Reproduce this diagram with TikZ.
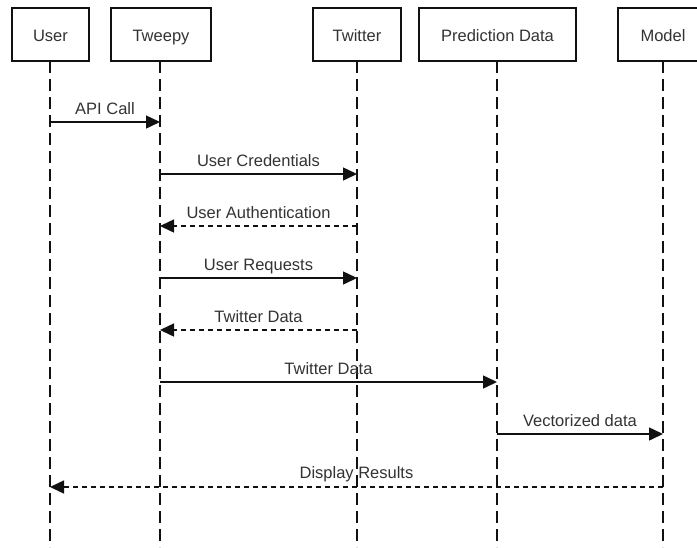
\documentclass[tikz,border=0pt]{standalone}
\usepackage{fontspec}
\setmainfont{Liberation Sans}
\usetikzlibrary{arrows.meta}
\definecolor{ink}{HTML}{111111}
\definecolor{txt}{HTML}{333333}
\begin{document}
\begin{tikzpicture}[x=1pt,y=-1pt,
  every node/.style={font=\fontsize{16.5}{20}\selectfont, text=txt},
  actor/.style={draw=ink, line width=2.4pt, minimum height=53pt, inner sep=0pt, anchor=center, text height=15pt, text depth=1pt},
  lifeline/.style={draw=ink, line width=1.5pt, dash pattern=on 12pt off 6pt},
  msg/.style={draw=ink, line width=1.5pt, -{Triangle[length=14pt,width=13pt]}},
  reply/.style={msg, dash pattern=on 5pt off 4pt},
  lbl/.style={anchor=base, inner sep=0pt}]
\useasboundingbox (0,0) rectangle (697,547);
\clip (0,0) rectangle (697,547);
\fill[white] (0,0) rectangle (697,547);
% actors
\node[actor, minimum width=77pt] (user) at (50.5,34.5) {User};
\node[actor, minimum width=100pt] (tweepy) at (161,34.5) {Tweepy};
\node[actor, minimum width=88pt] (twitter) at (357,34.5) {Twitter};
\node[actor, minimum width=157pt] (pred) at (497.5,34.5) {Prediction Data};
\node[actor, minimum width=90pt] (model) at (663,34.5) {Model};
% lifeline ends
\coordinate (uE) at (50,547);
\coordinate (tE) at (160,547);
\coordinate (wE) at (357,547);
\coordinate (pE) at (497,547);
\coordinate (mE) at (663,547);
\draw[lifeline] (50,61) -- (uE);
\draw[lifeline] (160,61) -- (tE);
\draw[lifeline] (357,61) -- (wE);
\draw[lifeline] (497,61) -- (pE);
\draw[lifeline] (663,61) -- (mE);
% message anchor points
\coordinate (u1) at (50,122);  \coordinate (t1) at (160,122);
\coordinate (t2) at (160,174); \coordinate (w2) at (357,174);
\coordinate (w3) at (357,226); \coordinate (t3) at (160,226);
\coordinate (t4) at (160,278); \coordinate (w4) at (357,278);
\coordinate (w5) at (357,330); \coordinate (t5) at (160,330);
\coordinate (t6) at (160,382); \coordinate (p6) at (497,382);
\coordinate (p7) at (497,434); \coordinate (m7) at (663,434);
\coordinate (m8) at (663,487); \coordinate (u8) at (50,487);
% messages
\draw[msg] (u1) -- (t1);
\node[lbl] (l1) at (105,114) {API Call};
\draw[msg] (t2) -- (w2);
\node[lbl] (l2) at (258.5,166) {User Credentials};
\draw[reply] (w3) -- (t3);
\node[lbl] (l3) at (258.5,218) {User Authentication};
\draw[msg] (t4) -- (w4);
\node[lbl] (l4) at (258.5,270) {User Requests};
\draw[reply] (w5) -- (t5);
\node[lbl] (l5) at (258.5,322) {Twitter Data};
\draw[msg] (t6) -- (p6);
\node[lbl] (l6) at (328.5,374) {Twitter Data};
\draw[msg] (p7) -- (m7);
\node[lbl] (l7) at (580,426) {Vectorized data};
\draw[reply] (m8) -- (u8);
\node[lbl] (l8) at (356.5,478) {Display Results};
\end{tikzpicture}
\end{document}
